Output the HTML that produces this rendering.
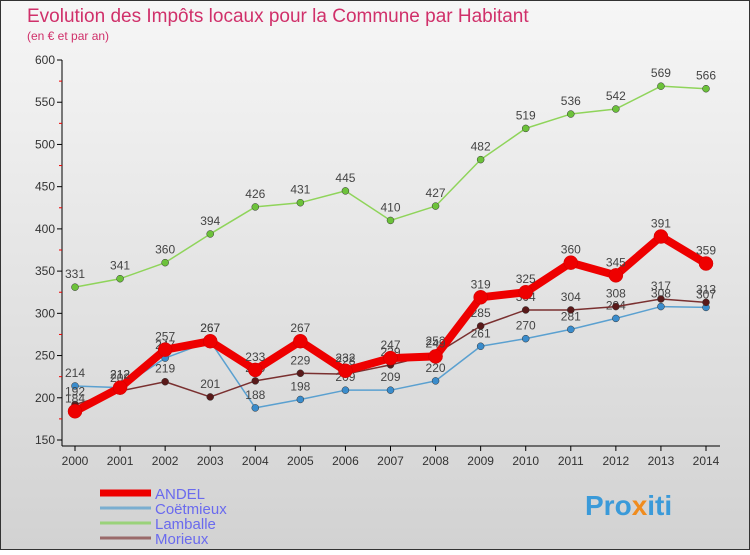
<!DOCTYPE html>
<html><head><meta charset="utf-8"><style>
body{margin:0}
svg text{font-family:"Liberation Sans",sans-serif}
</style></head><body>
<svg id="c" width="750" height="550" xmlns="http://www.w3.org/2000/svg">
<defs><linearGradient id="bg" x1="0" y1="0" x2="0" y2="1"><stop offset="0" stop-color="#f6f6f6"/><stop offset="1" stop-color="#d2d2d2"/></linearGradient></defs>
<rect x="0.5" y="0.5" width="749" height="549" fill="url(#bg)" stroke="#333"/>
<text x="27" y="22" font-size="19" fill="#d0306a">Evolution des Impôts locaux pour la Commune par Habitant</text>
<text x="27" y="40" font-size="12" fill="#d0306a">(en € et par an)</text>
<g id="axes"></g><g id="series"></g><g id="legend"></g>
<text x="585" y="515" font-size="28" font-weight="bold" fill="#3a9ad9">Pro<tspan fill="#f08c1e">x</tspan>iti</text>
</svg>
<script>
const years=[2000,2001,2002,2003,2004,2005,2006,2007,2008,2009,2010,2011,2012,2013,2014];
const yTicks=[150,200,250,300,350,400,450,500,550,600];
const seriesNames=["ANDEL","Coëtmieux","Lamballe","Morieux"];
const andel=[184,212,257,267,233,267,232,247,249,319,325,360,345,391,359];
const coetmieux=[214,212,247,267,188,198,209,209,220,261,270,281,294,308,307];
const lamballe=[331,341,360,394,426,431,445,410,427,482,519,536,542,569,566];
const morieux=[192,208,219,201,220,229,228,239,252,285,304,304,308,317,313];
const NS="http://www.w3.org/2000/svg";
const xS=i=>75+i*(631/14);
const yS=v=>440-(v-150)*(380/450);
function mk(t,a,p){const e=document.createElementNS(NS,t);for(const k in a)e.setAttribute(k,a[k]);p.appendChild(e);return e;}
const ax=document.getElementById('axes');
let yl=mk('line',{x1:62,y1:60,x2:62,y2:446,stroke:'#000'},ax);


let xl=mk('line',{x1:62,y1:446,x2:720,y2:446,stroke:'#000'},ax);


yTicks.forEach(v=>{
 mk('line',{x1:57,y1:yS(v),x2:62,y2:yS(v),stroke:'#000'},ax);
 if(v<600)mk('line',{x1:59,y1:yS(v+25),x2:62,y2:yS(v+25),stroke:'#e00'},ax);
 const t=mk('text',{x:55,y:yS(v)+4,'font-size':12,'text-anchor':'end',fill:'#333'},ax);
 t.textContent=v;
 
 
});
years.forEach((y,i)=>{
 mk('line',{x1:xS(i),y1:446,x2:xS(i),y2:451,stroke:'#000'},ax);
 const t=mk('text',{x:xS(i),y:465,'font-size':12,'text-anchor':'middle',fill:'#333'},ax);
 t.textContent=y;
 
 
});
const defs=[[lamballe,'#8fd45a','#6cc23a',1.5,3.5],[coetmieux,'#5aa0d0','#3a8ccc',1.5,3.5],[morieux,'#7a3030','#5a1a1a',1.5,3.5],[andel,'#ee0000','#ee0000',8,7]];
const sg=document.getElementById('series');
defs.forEach((d,k)=>{
 const g=mk('g',{},sg);
 
 
 mk('polyline',{points:d[0].map((v,i)=>xS(i)+','+yS(v)).join(' '),fill:'none',stroke:d[1],'stroke-width':d[3],'stroke-linejoin':'round'},g);
 d[0].forEach((v,i)=>{
  const c=mk('circle',{cx:xS(i),cy:yS(v),r:d[4],fill:d[2],stroke:k==3?'#c00':'#333','stroke-width':0.5},g);
  
  
  const t=mk('text',{x:xS(i),y:yS(v)-9,'font-size':12,'text-anchor':'middle',fill:'#444'},g);
  t.textContent=v;
  
  
 });
});
const lg=document.getElementById('legend');
const lc=['#ee0000','#7aaed0','#9ad27a','#9a6a6a'],lw=[7,3,3,3];
seriesNames.forEach((n,i)=>{
 const y=493+i*15;
 const g=mk('g',{},lg);
 
 
 mk('line',{x1:100,y1:y,x2:151,y2:y,stroke:lc[i],'stroke-width':lw[i]},g);
 const t=mk('text',{x:155,y:y+6,'font-size':15,fill:'#6a6aee'},g);
 t.textContent=n;
});
</script>
</body></html>
